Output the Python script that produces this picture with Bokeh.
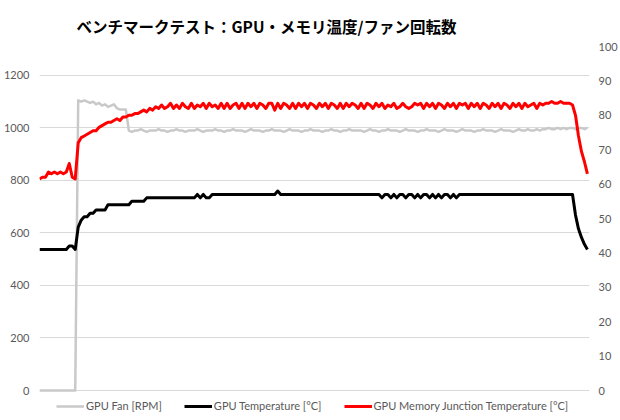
from bokeh.plotting import figure
from bokeh.models import (ColumnDataSource, Range1d, LinearAxis, FixedTicker,
                          Legend, LegendItem)
from bokeh.embed import file_html
from bokeh.resources import INLINE

# Benchmark log: one sample per step
fan_rpm = (
    [0] * 13
    + [1105, 1100, 1105, 1100, 1095, 1100, 1090, 1095, 1085, 1090, 1080, 1085,
       1090, 1075, 1070, 1070, 1070]
    + [990, 985, 990, 990, 995, 990, 985, 990, 990, 990,
       995, 990, 990, 985, 990, 990, 995, 990, 990, 985,
       990, 990, 990, 995, 990, 985, 990, 990, 990, 995,
       990, 990, 985, 990, 990, 995, 990, 990, 990, 985,
       990, 995, 990, 990, 990, 985, 990, 990, 995, 990,
       990, 990, 985, 990, 995, 990, 990, 990, 985, 990,
       990, 995, 990, 990, 990, 985, 990, 990, 995, 990,
       990, 985, 990, 990, 995, 990, 990, 990, 990, 985,
       990, 995, 990, 990, 985, 990, 990, 995, 990, 990,
       990, 985, 990, 995, 990, 990, 990, 985, 990, 990,
       995, 990, 990, 990, 985, 990, 995, 990, 990, 990,
       985, 990, 995, 990, 990, 990, 985, 990, 990, 995,
       990, 990, 990, 985, 990, 995, 990, 990, 990, 985,
       990, 995, 990, 990, 995, 990, 990, 995, 990, 995,
       995, 1000, 995, 995, 1000, 995, 1000, 995, 1000, 1000,
       995, 1000, 1000, 995, 1000]
)

gpu_temp = (
    [41] * 10
    + [42, 42, 41]
    + [47.5, 49.5, 50.5, 50.5, 51.5, 51.5]
    + [52.5] * 4
    + [54] * 8
    + [55] * 5
    + [56] * 17
    + [57, 56, 57, 56, 56, 57]
    + [57] * 21 + [58] + [57] * 33
    + [57, 56, 57, 57, 56, 57, 56, 57, 57, 56, 57, 57, 56, 57, 56, 57, 57,
       56, 57, 56, 57, 56, 57, 57, 56, 57, 56]
    + [57] * 39
    + [51, 47, 44.5, 42.5, 41]
)

mem_temp = (
    [61.5, 62, 62, 63.5, 63, 63.5, 63, 63.5, 63, 63.5, 66, 62, 61.5]
    + [72, 73.5, 74, 74.5, 75, 75.5, 75.5, 76.5, 77, 77.5, 78, 78, 78.5, 79,
       78.5, 79.5, 79.5, 80, 80, 80.5, 80.5, 81, 81.5, 81, 82, 81.5, 82.5]
    + [82, 83, 82, 82.5, 83.5, 82, 83, 82, 83.5, 82.5,
       82, 83.5, 82, 83, 82.5, 83.5, 82, 83.5, 82.5, 83,
       82, 83.5, 82, 83.5, 82, 83, 83.5, 82, 83.5, 82,
       83.5, 82.5, 83.5, 82, 83.5, 83, 82, 83.5, 83.5, 81.5,
       83.5, 82, 83.5, 83, 82, 83.5, 82, 83.5, 82.5, 83.5,
       82, 83.5, 83, 82, 83.5, 82.5, 83.5, 82, 83.5, 83,
       82, 83.5, 82, 83.5, 82.5, 83.5, 83, 82, 83.5, 82,
       83.5, 83, 82, 83.5, 82.5, 83.5, 82, 83, 82.5, 83.5,
       82, 82.5, 83.5, 82.5, 82, 82.5, 83.5, 83, 83.5, 82,
       83.5, 82.5, 83.5, 82, 83.5, 83, 82, 83.5, 82.5, 83.5,
       82, 83.5, 83, 83.5, 82, 83.5, 82.5, 83.5, 82, 83.5,
       83, 82, 83.5, 82.5, 83.5, 82, 83.5, 83, 82, 83.5,
       82.5, 83.5, 82, 83.5, 82.5, 83, 83.5, 82, 83.5, 83]
    + [83.5, 83.5, 84, 83.5, 83.5, 84, 83.5, 83.5, 83.5]
    + [83, 80, 74, 69.5, 66.5, 63]
)

sample = list(range(len(fan_rpm)))

rpm_ticks = [0, 200, 400, 600, 800, 1000, 1200]
temp_ticks = [0, 10, 20, 30, 40, 50, 60, 70, 80, 90, 100]

series_names = ["GPU Fan [RPM]", "GPU Temperature [°C]",
                "GPU Memory Junction Temperature [°C]"]
title_text = "ベンチマークテスト：GPU・メモリ温度/ファン回転数"

src = ColumnDataSource(dict(sample=sample, fan=fan_rpm, gpu=gpu_temp, mem=mem_temp))

LABEL_COLOR = "#595959"
TICK_FONT = "Lato"

# The frame runs down to the bottom edge so the legend strip fits inside it;
# both value ranges start below zero by the same 30 px.
RPM_TOP, TEMP_TOP = 1310, 100
FRAME_H = 374          # 46 px top border, frame to the bottom edge
LEGEND_STRIP = 30
rpm_low = -RPM_TOP * LEGEND_STRIP / (FRAME_H - LEGEND_STRIP)
temp_low = -TEMP_TOP * LEGEND_STRIP / (FRAME_H - LEGEND_STRIP)

p = figure(width=620, height=420, output_backend="svg", toolbar_location=None,
           x_axis_type=None, y_axis_location="left",
           x_range=Range1d(0, len(sample) - 0.3),
           y_range=Range1d(rpm_low, RPM_TOP),
           min_border_left=38, min_border_right=28,
           min_border_top=46, min_border_bottom=0)
p.extra_y_ranges = {"temp": Range1d(temp_low, TEMP_TOP)}
p.outline_line_color = None
p.background_fill_color = "white"
p.border_fill_color = "white"

# Title
p.title.text = title_text
p.title.text_font = "Noto Sans CJK JP"
p.title.text_font_style = "bold"
p.title.text_font_size = "15.5px"
p.title.text_color = "#000000"
p.title.align = "left"
p.title.offset = 37
p.title.standoff = 20


def style_axis(axis, standoff):
    axis.axis_line_color = None
    axis.major_tick_line_color = None
    axis.minor_tick_line_color = None
    axis.major_tick_out = 0
    axis.major_tick_in = 0
    axis.minor_tick_out = 0
    axis.minor_tick_in = 0
    axis.major_label_text_color = LABEL_COLOR
    axis.major_label_text_font = TICK_FONT
    axis.major_label_text_font_size = "11px"
    axis.major_label_standoff = standoff


# Left (RPM) axis
ax = p.yaxis[0]
ax.ticker = FixedTicker(ticks=rpm_ticks)
style_axis(ax, 10)

p.ygrid.ticker = FixedTicker(ticks=rpm_ticks)
p.ygrid.grid_line_color = "#D9D9D9"
p.ygrid.grid_line_width = 1
p.xgrid.visible = False

# Right (temperature) axis
rax = LinearAxis(y_range_name="temp", ticker=FixedTicker(ticks=temp_ticks))
style_axis(rax, 9)
p.add_layout(rax, "right")

r_fan = p.line("sample", "fan", source=src, line_color="#C9C9C9",
               line_width=2.5, line_join="round")
r_gpu = p.line("sample", "gpu", source=src, y_range_name="temp",
               line_color="#000000", line_width=3, line_join="round")
r_mem = p.line("sample", "mem", source=src, y_range_name="temp",
               line_color="#FF0000", line_width=3, line_join="round")

# Legend along the bottom strip
legend = Legend(items=[LegendItem(label=series_names[0], renderers=[r_fan]),
                       LegendItem(label=series_names[1], renderers=[r_gpu]),
                       LegendItem(label=series_names[2], renderers=[r_mem])],
                orientation="horizontal", location=(17, 8),
                border_line_color=None, background_fill_alpha=0,
                label_text_font=TICK_FONT, label_text_font_size="11px",
                label_text_color=LABEL_COLOR, glyph_width=28, glyph_height=12,
                label_height=12, label_standoff=2, spacing=22,
                padding=0, margin=0)
p.add_layout(legend, "center")

open("out.html", "w").write(file_html(p, INLINE))
